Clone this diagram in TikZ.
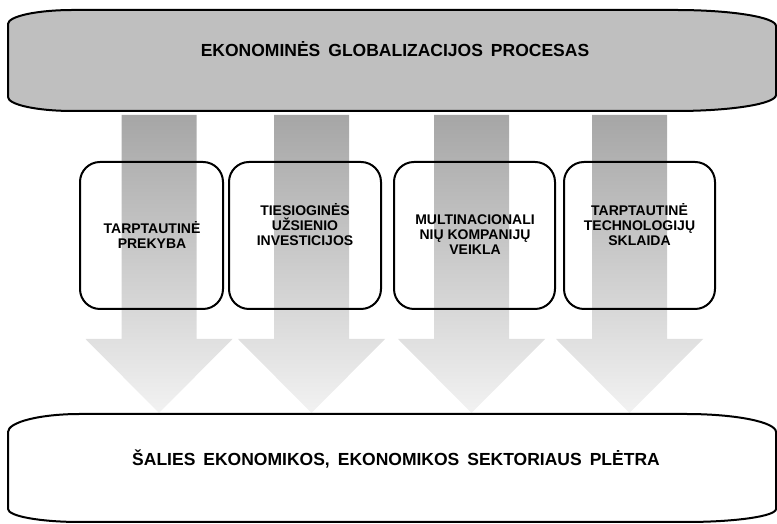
\documentclass[tikz,border=0pt]{standalone}
\usepackage{fontspec}
\setmainfont{Liberation Sans}
\begin{document}
\begin{tikzpicture}[x=1pt,y=1pt,
  frame/.style={draw=black, line width=2pt},
  itembox/.style={draw=black, line width=2pt, rounded corners=20pt, inner sep=0pt, outer sep=0pt},
  itemtext/.style={font=\bfseries\fontsize{14}{15}\selectfont, align=center, text=black, inner sep=0pt},
  bigtext/.style={font=\bfseries\fontsize{17.5}{20}\selectfont, text=black, inner sep=0pt},
  arrowshade/.style={top color=black!35, bottom color=black!5, draw=none}]
\useasboundingbox (0,0) rectangle (777,524);

% arrows (behind everything)
\foreach \c in {159,311.5,471.5,629.5}{
  \shade[arrowshade] ({\c-37.5},409) -- ({\c+37.5},409) -- ({\c+37.5},185) -- ({\c+73.5},185)
     -- (\c,111) -- ({\c-73.5},185) -- ({\c-37.5},185) -- cycle;
}

% top shape
\filldraw[frame, fill=black!25]
  (8,427) -- (8,500) arc[start angle=180, end angle=90, x radius=65, y radius=14]
  -- (676,514) arc[start angle=90, end angle=0, x radius=100, y radius=16]
  -- (776,429) arc[start angle=0, end angle=-90, x radius=100, y radius=16]
  -- (73,413) arc[start angle=270, end angle=180, x radius=65, y radius=14] -- cycle;
\node[bigtext] (top) at (395,475) {\spaceskip=8pt\relax EKONOMINĖS GLOBALIZACIJOS PROCESAS};

% bottom shape
\draw[frame]
  (8,15) -- (8,92) arc[start angle=180, end angle=90, x radius=72, y radius=18]
  -- (686,110) arc[start angle=90, end angle=0, x radius=90, y radius=18]
  -- (776,15) arc[start angle=0, end angle=-90, x radius=90, y radius=13]
  -- (80,2) arc[start angle=270, end angle=180, x radius=72, y radius=13] -- cycle;
\node[bigtext] (bottom) at (396,65) {\spaceskip=8pt\relax ŠALIES EKONOMIKOS, EKONOMIKOS SEKTORIAUS PLĖTRA};

% item boxes
\node[itembox, minimum width=143pt, minimum height=147pt] (b1) at (151.5,288.5) {};
\node[itembox, minimum width=152pt, minimum height=147pt] (b2) at (305,288.5) {};
\node[itembox, minimum width=161pt, minimum height=147pt] (b3) at (474.5,288.5) {};
\node[itembox, minimum width=151pt, minimum height=147pt] (b4) at (639.5,288.5) {};

\node[itemtext] (t1) at (152,288.5) {TARPTAUTINĖ\\PREKYBA};
\node[itemtext] (t2) at (305,299) {TIESIOGINĖS\\UŽSIENIO\\INVESTICIJOS};
\node[itemtext] (t3) at (475,289) {MULTINACIONALI\\NIŲ KOMPANIJŲ\\VEIKLA};
\node[itemtext] (t4) at (639.5,299) {TARPTAUTINĖ\\TECHNOLOGIJŲ\\SKLAIDA};
\end{tikzpicture}
\end{document}
